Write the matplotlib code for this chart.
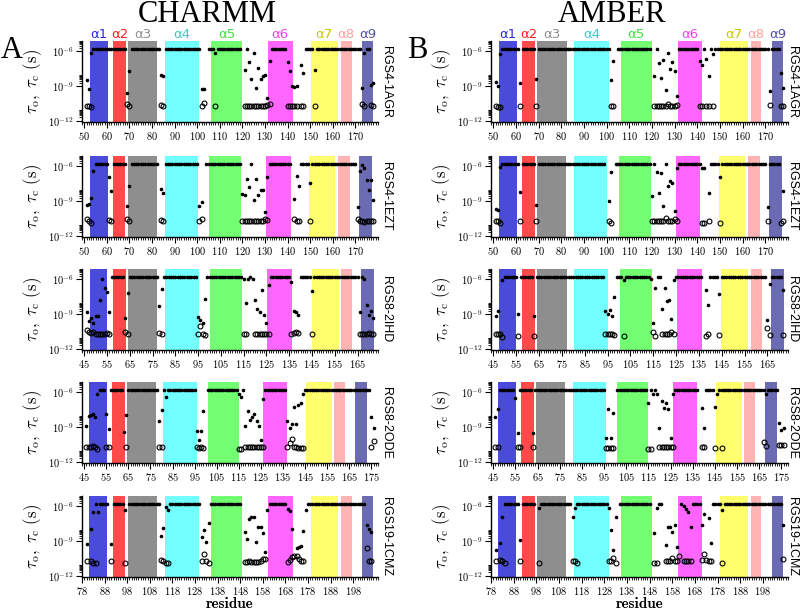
import matplotlib
matplotlib.use('Agg')
import matplotlib.pyplot as plt
from matplotlib.ticker import FixedLocator, FixedFormatter, MultipleLocator, NullFormatter
import numpy as np

plt.rcParams['font.family'] = 'serif'
plt.rcParams['font.serif'] = ['cmr10', 'DejaVu Serif']
plt.rcParams['mathtext.fontset'] = 'cm'
plt.rcParams['axes.unicode_minus'] = False
plt.rcParams['axes.formatter.use_mathtext'] = True

# log10 of the capped tau value (the flat row of dots near 1e-6)
PLATEAU = -5.77

# ---- helix boundaries (residue numbers) ----
bands_1agr = [(52.4, 60.4), (62.8, 68.4), (69.4, 82.4), (85.6, 101.0), (106.2, 119.8),
              (131.3, 142.2), (150.2, 162.3), (163.5, 168.3), (172.9, 177.9)]
bands_1ezt = [(52.4, 60.4), (62.6, 68.2), (69.4, 82.0), (85.6, 100.3), (105.3, 119.5),
              (130.4, 141.3), (149.6, 161.1), (162.3, 167.6), (171.7, 177.5)]
bands_2ihd = [(47.5, 55.0), (57.4, 63.2), (64.3, 77.1), (80.3, 95.4), (100.3, 114.3),
              (125.3, 136.4), (144.8, 156.7), (157.9, 162.5), (166.6, 172.4)]
bands_2ode = [(47.3, 55.2), (57.6, 63.3), (64.5, 77.5), (80.8, 95.9), (101.0, 114.9),
              (126.0, 136.9), (145.4, 157.1), (158.3, 163.1), (167.7, 173.1)]
bands_1cmz = [(81.2, 89.2), (91.6, 97.2), (98.4, 111.3), (114.6, 129.9), (135.2, 148.8),
              (160.3, 171.2), (179.2, 191.3), (192.6, 197.3), (201.9, 206.9)]

helix_names = ['α1', 'α2', 'α3', 'α4', 'α5', 'α6', 'α7', 'α8', 'α9']
band_colors = ['#4b4bd9', '#ff4a4a', '#8e8e8e', '#72ffff', '#72ff72',
               '#ff66ff', '#ffff6e', '#ffb3b3', '#6b6bb3']
label_colors = ['#2a2ae0', '#ff2020', '#909090', '#40c8c8', '#40e040',
                '#f040f0', '#c8c800', '#ffa0a0', '#5050a8']

proteins = ['RGS4-1AGR', 'RGS4-1EZT', 'RGS8-2IHD', 'RGS8-2ODE', 'RGS19-1CMZ']
xlims = [(49, 180), (49, 180), (44, 174), (44, 178), (78, 209)]
xticks = [list(range(50, 171, 10)), list(range(50, 171, 10)), list(range(45, 166, 10)),
          list(range(45, 176, 10)), list(range(78, 199, 10))]
bands = [bands_1agr, bands_1ezt, bands_2ihd, bands_2ode, bands_1cmz]

# ---- CHARMM ----
a1_runs = [(54, 68), (71, 83), (86, 101), (105, 107), (109, 119), (122, 122), (133, 139),
           (148, 151), (153, 172), (175, 176)]
a1_low = [(51, -8.5), (52, -9.25), (53, -6.1), (69, -9.6), (70, -7.7), (84, -8.0), (85, -8.1),
          (102, -9.25), (103, -9.25), (108, -6.1), (121, -7.6), (123, -6.9), (124, -8.4),
          (125, -6.1), (126, -9.2), (127, -7.4), (128, -8.4), (129, -8.1), (130, -8.0),
          (131, -10.0), (132, -6.8), (140, -6.9), (141, -7.7), (142, -9.0), (143, -9.1),
          (144, -9.0), (146, -7.2), (147, -7.9), (152, -7.6), (173, -9.2), (174, -6.1),
          (177, -8.9), (178, -8.7)]
a1_open = [(51, -10.75), (52, -10.7), (53, -10.8), (69, -10.55), (70, -10.75), (84, -10.65),
           (85, -10.75), (102, -10.75), (103, -10.45), (108, -10.75), (121, -10.75), (122, -10.75),
           (123, -10.75), (124, -10.75), (125, -10.7), (126, -10.75), (127, -10.75), (128, -10.7),
           (129, -10.75), (130, -10.75), (131, -10.6), (132, -10.5), (140, -10.75), (141, -10.7),
           (142, -10.75), (143, -10.7), (144, -10.75), (146, -10.75), (147, -10.75), (152, -10.75),
           (173, -10.55), (174, -10.75), (177, -10.65), (178, -10.7)]

a2_runs = [(55, 60), (63, 68), (71, 82), (86, 100), (104, 119), (124, 124), (132, 141),
           (146, 149), (151, 170)]
a2_low = [(51, -9.3), (52, -9.25), (53, -8.7), (54, -6.4), (61, -6.9), (62, -8.1), (69, -9.4),
          (70, -7.65), (84, -7.95), (85, -8.3), (101, -9.4), (102, -9.1), (120, -8.4), (121, -8.5),
          (122, -7.1), (123, -7.8), (125, -8.9), (126, -7.1), (127, -8.5), (128, -8.0), (129, -8.0),
          (130, -9.9), (131, -6.9), (143, -8.8), (144, -6.8), (145, -7.65), (150, -7.45),
          (171, -9.5), (172, -6.4), (173, -5.9), (174, -6.1), (175, -7.2), (176, -8.0),
          (177, -7.2), (178, -8.9)]
a2_open = [(51, -10.55), (52, -10.7), (53, -10.85), (61, -10.6), (62, -10.75), (69, -10.55),
           (70, -10.7), (84, -10.65), (85, -10.75), (101, -10.75), (102, -10.5), (120, -10.7),
           (121, -10.75), (122, -10.7), (123, -10.75), (124, -10.7), (125, -10.75), (126, -10.7),
           (127, -10.75), (128, -10.7), (129, -10.75), (130, -10.5), (131, -10.6), (143, -10.55),
           (144, -10.75), (145, -10.75), (150, -10.75), (171, -10.55), (172, -10.7), (173, -10.75),
           (174, -10.8), (175, -10.75), (176, -10.7), (177, -10.7), (178, -10.7)]

a3_runs = [(57, 62), (65, 77), (80, 94), (99, 114), (118, 118), (127, 135), (140, 144),
           (146, 165), (167, 167)]
a3_low = [(46, -8.85), (47, -9.6), (48, -9.3), (49, -9.8), (50, -9.2), (51, -9.2), (52, -7.8),
          (53, -6.0), (54, -6.7), (55, -7.1), (56, -8.8), (63, -9.3), (64, -7.2), (78, -8.3),
          (79, -6.8), (95, -9.25), (96, -9.5), (97, -9.8), (98, -7.7), (115, -6.0), (116, -8.0),
          (117, -6.0), (119, -6.0), (120, -7.8), (121, -8.55), (122, -8.8), (123, -6.9),
          (124, -9.05), (125, -9.8), (126, -6.5), (136, -6.2), (137, -8.7), (138, -8.85),
          (139, -9.05), (145, -7.0), (166, -8.85), (168, -6.0), (169, -8.2), (170, -9.05),
          (171, -8.7), (172, -9.3)]
a3_open = [(46, -10.4), (47, -10.5), (48, -10.6), (49, -10.55), (50, -10.7), (51, -10.75),
           (52, -10.75), (53, -10.7), (54, -10.7), (55, -10.65), (56, -10.7), (63, -10.55),
           (64, -10.75), (78, -10.65), (79, -10.75), (95, -10.75), (96, -10.05), (97, -10.75),
           (98, -10.8), (115, -10.7), (116, -10.75), (120, -10.75), (121, -10.75), (122, -10.7),
           (123, -10.75), (124, -10.75), (125, -10.7), (126, -10.75), (136, -10.75), (137, -10.6),
           (138, -10.5), (139, -10.65), (145, -10.75), (166, -10.7), (167, -10.75), (168, -10.75),
           (169, -10.7), (170, -10.65), (171, -10.7), (172, -10.7)]

a4_runs = [(52, 54), (57, 62), (65, 78), (81, 81), (83, 95), (101, 114), (117, 117),
           (127, 136), (145, 174)]
a4_low = [(46, -8.9), (47, -8.0), (48, -7.95), (49, -7.9), (50, -8.15), (51, -6.15), (55, -7.9),
          (56, -9.2), (63, -9.4), (64, -7.95), (79, -8.5), (80, -7.5), (82, -6.4), (96, -9.35),
          (97, -10.1), (98, -9.35), (99, -7.6), (115, -6.15), (116, -6.4), (118, -8.9),
          (119, -7.6), (120, -8.4), (121, -8.1), (122, -7.9), (123, -8.5), (124, -8.9),
          (125, -10.1), (126, -6.55), (137, -8.5), (138, -9.05), (139, -8.7), (140, -7.3),
          (141, -8.7), (142, -7.1), (143, -6.95), (144, -6.15), (175, -8.1), (176, -9.1)]
a4_open = [(46, -10.7), (47, -10.7), (48, -10.7), (49, -10.65), (50, -10.7), (51, -10.85),
           (55, -10.75), (56, -10.75), (64, -10.7), (79, -10.7), (80, -10.75), (96, -10.75),
           (97, -10.8), (98, -10.75), (99, -10.8), (115, -10.85), (116, -10.85), (118, -10.75),
           (119, -10.7), (120, -10.75), (121, -10.75), (122, -10.7), (123, -10.75), (124, -10.75),
           (125, -10.7), (126, -10.75), (137, -10.75), (138, -10.4), (139, -10.0), (140, -10.7),
           (141, -10.75), (142, -10.8), (143, -10.8), (144, -10.8), (175, -10.75), (176, -10.2)]

a5_runs = [(84, 84), (86, 89), (92, 96), (99, 112), (117, 130), (135, 148), (161, 168),
           (178, 203)]
a5_low = [(80, -9.28), (82, -7.97), (83, -6.44), (85, -6.52), (91, -9.28), (97, -6.29),
          (113, -8.55), (114, -7.83), (115, -6.09), (116, -6.29), (131, -8.67), (132, -8.03),
          (133, -9.05), (134, -7.45), (150, -8.2), (151, -8.8), (152, -7.1), (153, -6.93),
          (154, -6.87), (155, -9.05), (156, -7.74), (157, -7.74), (158, -8.32), (159, -9.9),
          (160, -6.29), (169, -6.23), (170, -6.35), (171, -7.97), (173, -9.57), (174, -9.48),
          (175, -9.4), (176, -8.09), (177, -6.29), (204, -7.6), (205, -7.97), (206, -8.17)]
a5_open = [(80, -10.7), (82, -10.75), (83, -10.85), (84, -10.85), (91, -10.75), (97, -10.85),
           (113, -10.65), (114, -10.75), (115, -10.85), (116, -10.85), (131, -10.75), (132, -10.1),
           (133, -10.7), (134, -10.85), (150, -10.8), (151, -10.8), (152, -10.75), (153, -10.8),
           (154, -10.8), (155, -10.8), (156, -10.8), (157, -10.75), (158, -10.5), (159, -10.55),
           (169, -10.8), (170, -10.65), (171, -10.4), (172, -10.25), (173, -10.3), (174, -10.5),
           (175, -10.75), (176, -10.75), (204, -9.6), (205, -10.75), (206, -10.75)]

# ---- AMBER ----
b1_runs = [(54, 61), (63, 68), (70, 101), (105, 119), (122, 122), (132, 140), (143, 143),
           (146, 146), (148, 171), (173, 176)]
b1_low = [(51, -8.67), (52, -8.96), (53, -6.26), (62, -8.7), (69, -8.4), (102, -8.44),
          (103, -6.84), (121, -8.15), (123, -6.99), (124, -8.29), (125, -6.7), (126, -9.3),
          (127, -6.12), (128, -7.51), (129, -6.93), (130, -7.7), (131, -9.83), (141, -6.84),
          (142, -7.13), (144, -6.64), (145, -8.15), (147, -6.18), (172, -9.45), (177, -7.9),
          (178, -9.2)]
b1_open = [(51, -10.7), (52, -10.8), (53, -10.8), (62, -10.75), (69, -10.7), (102, -10.75),
           (103, -10.75), (121, -10.75), (122, -10.75), (123, -10.75), (124, -10.7), (125, -10.75),
           (126, -10.75), (127, -10.5), (128, -10.75), (129, -10.75), (130, -10.7), (131, -10.6),
           (141, -10.75), (142, -10.75), (144, -10.7), (145, -10.75), (147, -10.75), (172, -10.6),
           (177, -10.7), (178, -10.7)]

b2_runs = [(54, 61), (63, 68), (70, 99), (104, 119), (121, 121), (126, 126), (132, 141),
           (146, 149), (151, 170), (172, 176)]
b2_low = [(51, -9.68), (52, -9.74), (53, -6.06), (62, -8.23), (69, -9.3), (101, -8.96),
          (102, -6.44), (120, -8.52), (122, -6.5), (123, -8.32), (124, -6.55), (125, -9.4),
          (127, -7.7), (128, -7.25), (129, -7.42), (130, -9.83), (131, -6.15), (142, -6.15),
          (143, -6.15), (145, -8.32), (150, -6.93), (171, -9.54), (178, -8.1)]
b2_open = [(51, -10.7), (52, -10.7), (53, -10.9), (62, -10.75), (69, -10.75), (101, -10.75),
           (102, -10.85), (120, -10.75), (121, -10.75), (122, -10.75), (123, -10.7), (124, -10.75),
           (125, -10.75), (126, -10.45), (127, -10.75), (128, -10.75), (129, -10.7), (130, -10.55),
           (131, -10.75), (142, -10.85), (143, -10.85), (145, -10.75), (150, -10.85), (171, -10.7),
           (177, -10.85), (178, -10.7)]

b3_runs = [(50, 55), (57, 62), (64, 93), (99, 101), (103, 113), (117, 118), (125, 136),
           (140, 143), (145, 164), (167, 171)]
b3_low = [(46, -9.13), (47, -8.76), (49, -6.06), (56, -9.0), (63, -9.13), (94, -8.7), (95, -8.97),
          (96, -8.67), (97, -9.2), (98, -7.5), (102, -6.06), (114, -6.0), (115, -9.77),
          (116, -6.73), (119, -8.55), (120, -6.7), (121, -7.83), (122, -7.75), (123, -9.42),
          (124, -6.06), (138, -6.87), (139, -8.17), (144, -7.22), (165, -9.48), (166, -6.35),
          (172, -6.87)]
b3_open = [(46, -10.75), (47, -10.75), (48, -10.75), (49, -10.95), (56, -10.85), (63, -10.85),
           (94, -10.75), (95, -10.75), (96, -10.75), (97, -10.75), (98, -10.8), (102, -10.85),
           (115, -10.5), (116, -10.85), (119, -10.75), (120, -10.75), (121, -10.75), (122, -10.75),
           (123, -10.5), (124, -10.75), (138, -10.85), (139, -10.75), (144, -10.8), (165, -10.2),
           (166, -10.8), (172, -10.8)]

b4_runs = [(48, 54), (57, 62), (64, 95), (101, 114), (116, 116), (118, 118), (127, 137),
           (141, 144), (147, 167), (169, 173)]
b4_low = [(46, -8.1), (47, -7.42), (55, -6.5), (56, -9.54), (63, -9.5), (96, -9.9), (97, -7.42),
          (98, -9.95), (99, -7.8), (115, -6.93), (117, -6.15), (119, -6.15), (120, -9.05),
          (121, -6.78), (122, -7.36), (123, -6.93), (124, -7.42), (125, -9.97), (126, -6.15),
          (139, -7.36), (140, -9.1), (145, -7.3), (146, -6.15), (168, -6.15), (174, -8.67),
          (175, -9.25), (176, -9.05)]
b4_open = [(46, -10.75), (47, -10.75), (56, -10.75), (57, -10.7), (63, -10.75), (96, -10.8),
           (97, -10.8), (98, -10.8), (99, -10.8), (115, -10.85), (116, -10.85), (120, -10.75),
           (121, -10.75), (122, -10.7), (123, -10.75), (124, -10.75), (125, -10.75), (126, -10.75),
           (139, -10.7), (140, -10.75), (145, -10.8), (148, -10.8), (167, -10.25), (168, -10.65),
           (174, -10.55), (175, -10.55), (176, -10.55)]

b5_runs = [(84, 90), (92, 97), (100, 113), (116, 129), (135, 148), (152, 153), (162, 162),
           (167, 170), (176, 179), (181, 206)]
b5_low = [(80, -9.77), (82, -9.19), (83, -6.87), (91, -8.9), (99, -6.15), (114, -6.87),
          (115, -6.15), (130, -6.15), (131, -8.03), (132, -9.77), (133, -6.87), (150, -8.32),
          (151, -6.15), (155, -9.34), (156, -7.74), (157, -7.74), (158, -8.2), (159, -7.6),
          (160, -9.48), (163, -5.94), (164, -6.23), (165, -6.52), (166, -7.74), (171, -7.6),
          (172, -6.64), (174, -7.0), (175, -9.19), (180, -6.29), (207, -7.6)]
b5_open = [(80, -10.7), (82, -10.6), (83, -10.7), (84, -10.85), (91, -10.75), (99, -10.85),
           (114, -10.7), (115, -10.75), (116, -10.85), (130, -10.75), (131, -10.7), (132, -10.45),
           (133, -10.85), (150, -10.85), (151, -10.85), (155, -10.7), (156, -10.7), (157, -10.7),
           (158, -10.45), (159, -10.7), (160, -10.7), (161, -10.3), (163, -10.75), (164, -10.75),
           (165, -10.75), (166, -10.75), (171, -10.6), (172, -10.1), (173, -10.6), (174, -10.75),
           (175, -10.75), (180, -10.85), (207, -10.55)]

charmm = [(a1_runs, a1_low, a1_open), (a2_runs, a2_low, a2_open), (a3_runs, a3_low, a3_open),
          (a4_runs, a4_low, a4_open), (a5_runs, a5_low, a5_open)]
amber = [(b1_runs, b1_low, b1_open), (b2_runs, b2_low, b2_open), (b3_runs, b3_low, b3_open),
         (b4_runs, b4_low, b4_open), (b5_runs, b5_low, b5_open)]


def filled_points(runs, low):
    res, ex = [], []
    for a, b in runs:
        for r in range(a, b + 1):
            res.append(r)
            ex.append(PLATEAU)
    for r, e in low:
        res.append(r)
        ex.append(e)
    return np.array(res), 10.0 ** np.array(ex)


W, H = 800, 610
fig = plt.figure(figsize=(8, 6.1), dpi=100)

col_x = [82, 491]
col_w = [296, 297]
row_bottom = [122, 237, 350, 463, 577]
row_h = 81

ymaj = [1e-12, 1e-9, 1e-6]
ymin_ticks = [k * 10.0 ** e for e in (-12, -9, -6) for k in range(2, 10)]

for c, sets in enumerate([charmm, amber]):
    for r in range(5):
        ax = fig.add_axes([col_x[c] / W, 1 - row_bottom[r] / H, col_w[c] / W, row_h / H])
        runs, low, opn = sets[r]
        for k, (x0, x1) in enumerate(bands[r]):
            ax.axvspan(x0, x1, color=band_colors[k], lw=0, zorder=1)
            if r == 0:
                ax.text((x0 + x1) / 2, 1.085, helix_names[k], transform=ax.get_xaxis_transform(),
                        ha='center', va='center', fontsize=9.5, color=label_colors[k],
                        family='DejaVu Sans')
        xs, ys = filled_points(runs, low)
        ax.plot(xs, ys, 'o', ms=2.6, color='black', mew=0, zorder=4)
        ox = [p[0] for p in opn]
        oy = [10.0 ** p[1] for p in opn]
        ax.plot(ox, oy, 'o', ms=3.5, mfc='none', mec='black', mew=0.8, zorder=3)

        ax.set_yscale('log')
        ax.set_ylim(8e-13, 8e-6)
        ax.set_xlim(*xlims[r])
        ax.yaxis.set_major_locator(FixedLocator(ymaj))
        ax.yaxis.set_major_formatter(FixedFormatter([r'$10^{-12}$', r'$10^{-9}$', r'$10^{-6}$']))
        ax.yaxis.set_minor_locator(FixedLocator(ymin_ticks))
        ax.yaxis.set_minor_formatter(NullFormatter())
        ax.xaxis.set_major_locator(FixedLocator(xticks[r]))
        ax.xaxis.set_minor_locator(MultipleLocator(1))
        for s in ['top', 'right']:
            ax.spines[s].set_visible(False)
        for s in ['left', 'bottom']:
            ax.spines[s].set_linewidth(1.0)
        ax.tick_params(axis='both', which='major', direction='out', length=4, width=0.8,
                       labelsize=7.5, pad=2)
        ax.tick_params(axis='both', which='minor', direction='out', length=2, width=0.6)
        ax.set_ylabel(r'$\tau_{\rm o},\ \tau_{\rm c}\ {\rm (s)}$', fontsize=12, labelpad=3)
        fig.text([386, 792][c] / W, 1 - (row_bottom[r] - row_h / 2) / H, proteins[r],
                 rotation=-90, ha='center', va='center', fontsize=9, family='Liberation Sans')

    fig.text([230, 640][c] / W, 1 - 608 / H, 'residue', ha='center', va='baseline',
             fontsize=11, family='cmb10')

fig.text(207 / W, 1 - 14 / H, 'CHARMM', ha='center', va='center', fontsize=22,
         family='Liberation Serif')
fig.text(612 / W, 1 - 14 / H, 'AMBER', ha='center', va='center', fontsize=22,
         family='Liberation Serif')
fig.text(12 / W, 1 - 50 / H, 'A', ha='center', va='center', fontsize=22, family='Liberation Serif')
fig.text(417 / W, 1 - 50 / H, 'B', ha='center', va='center', fontsize=22, family='Liberation Serif')

fig.savefig('out.png', dpi=100)
